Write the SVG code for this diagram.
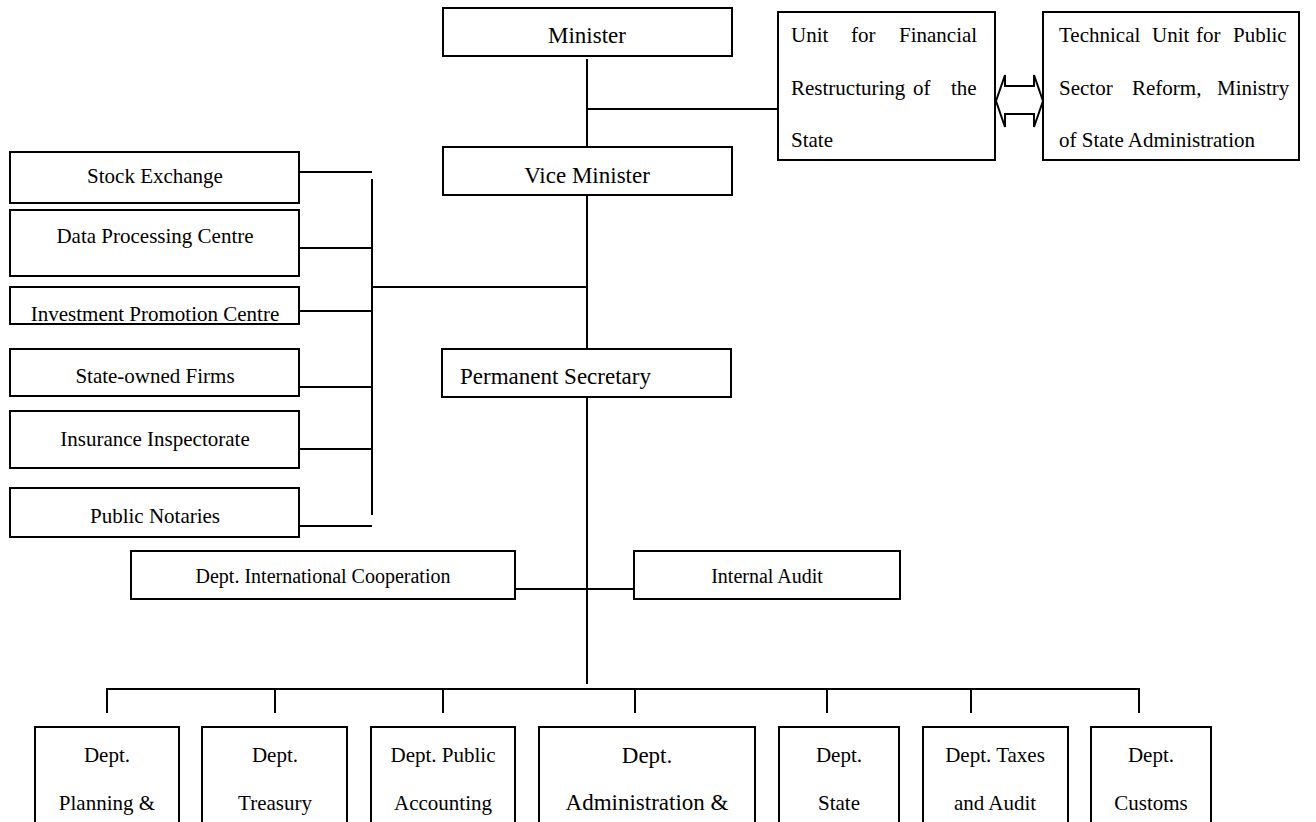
<svg xmlns="http://www.w3.org/2000/svg" width="1316" height="822" viewBox="0 0 1316 822" font-family="'Liberation Serif', 'Times New Roman', Times, serif">
  <style>
    .box { fill: #ffffff; stroke: #000000; stroke-width: 2; }
    .ln { fill: none; stroke: #000000; stroke-width: 2; }
    text { font-family: 'Liberation Serif', 'Times New Roman', Times, serif; fill: #000000; }
    .t23 { font-size: 23px; }
    .t21 { font-size: 21px; }
    .t20 { font-size: 20px; }
    .mid { text-anchor: middle; }
  </style>
  <rect width="1316" height="822" fill="#ffffff"/>

  <!-- connectors -->
  <g id="connectors">
    <!-- minister trunk and side unit -->
    <path class="ln" d="M587 59 V156"/>
    <path class="ln" d="M587 109 H778"/>
    <!-- vice minister to permanent secretary -->
    <path class="ln" d="M587 195 V349"/>
    <!-- left bus -->
    <path class="ln" d="M372 179 V515"/>
    <path class="ln" d="M299 172 H372"/>
    <path class="ln" d="M299 248 H372"/>
    <path class="ln" d="M372 287 H587"/>
    <path class="ln" d="M299 311 H372"/>
    <path class="ln" d="M299 387 H372"/>
    <path class="ln" d="M299 449 H372"/>
    <path class="ln" d="M299 526 H372"/>
    <!-- permanent secretary trunk -->
    <path class="ln" d="M587 395 V684"/>
    <path class="ln" d="M515 589 H634"/>
    <!-- department bus -->
    <path class="ln" d="M107 713 V689 H1139 V713"/>
    <path class="ln" d="M275 689 V713"/>
    <path class="ln" d="M443 689 V713"/>
    <path class="ln" d="M635 689 V713"/>
    <path class="ln" d="M827 689 V713"/>
    <path class="ln" d="M971 689 V713"/>
    <!-- two-way hollow arrow -->
    <polygon class="ln" points="996,101 1005,75 1005,86 1034,86 1034,75 1043,101 1034,127 1034,114 1005,114 1005,127"/>
  </g>

  <g id="minister">
    <rect class="box" x="443" y="8" width="289" height="48"/>
    <text class="t23 mid" x="587" y="43">Minister</text>
  </g>
  <g id="vice-minister">
    <rect class="box" x="443" y="147" width="289" height="48"/>
    <text class="t23 mid" x="587" y="183">Vice Minister</text>
  </g>
  <g id="permanent-secretary">
    <rect class="box" x="442" y="349" width="289" height="48"/>
    <text class="t23" x="460" y="384">Permanent Secretary</text>
  </g>

  <g id="unit-financial-restructuring">
    <rect class="box" x="778" y="12" width="217" height="148"/>
    <text class="t21" y="42"><tspan x="791">Unit</tspan><tspan x="851">for</tspan><tspan x="899">Financial</tspan></text>
    <text class="t21" y="95"><tspan x="791">Restructuring</tspan><tspan x="913">of</tspan><tspan x="951">the</tspan></text>
    <text class="t21" x="791" y="147">State</text>
  </g>
  <g id="technical-unit">
    <rect class="box" x="1043" y="12" width="256" height="148"/>
    <text class="t21" y="42"><tspan x="1059">Technical</tspan><tspan x="1152">Unit</tspan><tspan x="1196">for</tspan><tspan x="1233">Public</tspan></text>
    <text class="t21" y="95"><tspan x="1059">Sector</tspan><tspan x="1132">Reform,</tspan><tspan x="1217">Ministry</tspan></text>
    <text class="t21" x="1059" y="147">of State Administration</text>
  </g>

  <g id="stock-exchange">
    <rect class="box" x="10" y="152" width="289" height="51"/>
    <text class="t21 mid" x="155" y="183">Stock Exchange</text>
  </g>
  <g id="data-processing-centre">
    <rect class="box" x="10" y="210" width="289" height="66"/>
    <text class="t21 mid" x="155" y="243">Data Processing Centre</text>
  </g>
  <g id="investment-promotion-centre">
    <rect class="box" x="10" y="287" width="289" height="37"/>
    <text class="t21 mid" x="155" y="321">Investment Promotion Centre</text>
  </g>
  <g id="state-owned-firms">
    <rect class="box" x="10" y="349" width="289" height="47"/>
    <text class="t21 mid" x="155" y="383">State-owned Firms</text>
  </g>
  <g id="insurance-inspectorate">
    <rect class="box" x="10" y="411" width="289" height="57"/>
    <text class="t21 mid" x="155" y="446">Insurance Inspectorate</text>
  </g>
  <g id="public-notaries">
    <rect class="box" x="10" y="488" width="289" height="49"/>
    <text class="t21 mid" x="155" y="523">Public Notaries</text>
  </g>

  <g id="dept-international-cooperation">
    <rect class="box" x="131" y="551" width="384" height="48"/>
    <text class="t20 mid" x="323" y="583">Dept. International Cooperation</text>
  </g>
  <g id="internal-audit">
    <rect class="box" x="634" y="551" width="266" height="48"/>
    <text class="t20 mid" x="767" y="583">Internal Audit</text>
  </g>

  <g id="dept-planning">
    <rect class="box" x="35" y="727" width="144" height="110"/>
    <text class="t21 mid" x="107" y="762">Dept.</text>
    <text class="t21 mid" x="107" y="810">Planning &amp;</text>
  </g>
  <g id="dept-treasury">
    <rect class="box" x="202" y="727" width="145" height="110"/>
    <text class="t21 mid" x="275" y="762">Dept.</text>
    <text class="t21 mid" x="275" y="810">Treasury</text>
  </g>
  <g id="dept-public-accounting">
    <rect class="box" x="371" y="727" width="144" height="110"/>
    <text class="t21 mid" x="443" y="762">Dept. Public</text>
    <text class="t21 mid" x="443" y="810">Accounting</text>
  </g>
  <g id="dept-administration">
    <rect class="box" x="539" y="727" width="216" height="110"/>
    <text class="t23 mid" x="647" y="763">Dept.</text>
    <text class="t23 mid" x="647" y="810">Administration &amp;</text>
  </g>
  <g id="dept-state">
    <rect class="box" x="779" y="727" width="120" height="110"/>
    <text class="t21 mid" x="839" y="762">Dept.</text>
    <text class="t21 mid" x="839" y="810">State</text>
  </g>
  <g id="dept-taxes-audit">
    <rect class="box" x="923" y="727" width="145" height="110"/>
    <text class="t21 mid" x="995" y="762">Dept. Taxes</text>
    <text class="t21 mid" x="995" y="810">and Audit</text>
  </g>
  <g id="dept-customs">
    <rect class="box" x="1091" y="727" width="120" height="110"/>
    <text class="t21 mid" x="1151" y="762">Dept.</text>
    <text class="t21 mid" x="1151" y="810">Customs</text>
  </g>
</svg>
